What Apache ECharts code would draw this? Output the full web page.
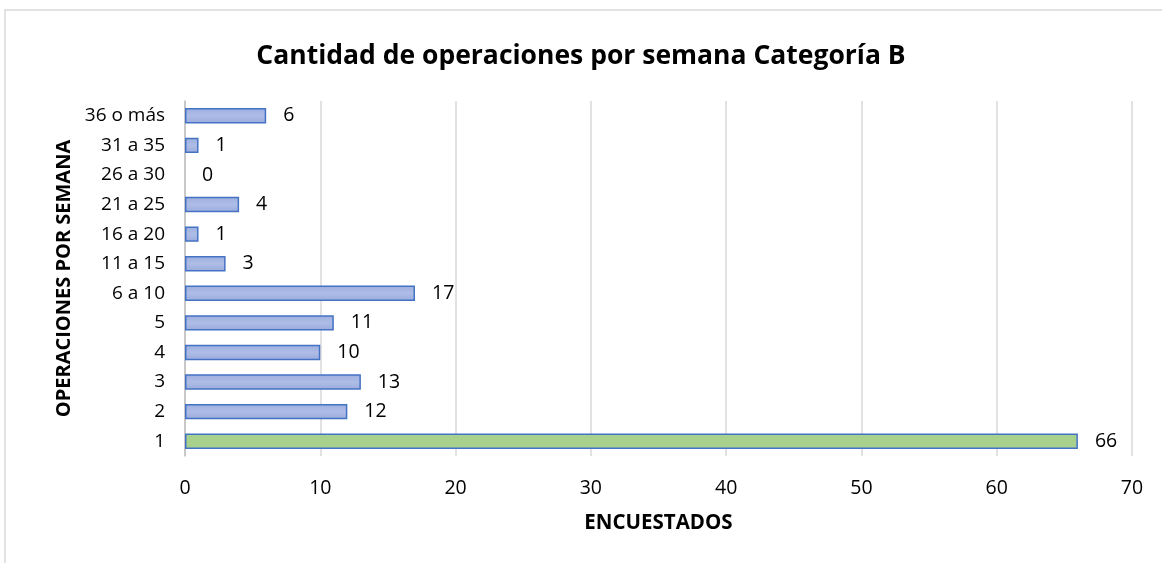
<!DOCTYPE html>
<html>
<head>
<meta charset="utf-8">
<script src="https://cdn.jsdelivr.net/npm/echarts@6/dist/echarts.min.js"></script>
<style>
  html, body { margin: 0; padding: 0; background: #fff; }
  #chart { width: 1162px; height: 563px; }
</style>
</head>
<body>
<div id="chart"></div>
<script>
// datos
var categorias = ['1', '2', '3', '4', '5', '6 a 10', '11 a 15', '16 a 20', '21 a 25', '26 a 30', '31 a 35', '36 o más'];
var encuestados = [66, 12, 13, 10, 11, 17, 3, 1, 4, 0, 1, 6];
var ticksX = [0, 10, 20, 30, 40, 50, 60, 70];

var fuente = 'Open Sans';
var azul = new echarts.graphic.LinearGradient(0, 0, 0, 1, [
    { offset: 0, color: '#9dafdf' },
    { offset: 0.5, color: '#aebde6' },
    { offset: 1, color: '#9aabdc' }
]);

var datos = encuestados.map(function (v, i) {
    return {
        value: v,
        itemStyle: {
            color: i === 0 ? '#a9d18e' : azul,
            borderWidth: v === 0 ? 0 : 1.5   // sin barra para el 0
        }
    };
});

var option = {
    backgroundColor: '#fff',
    animation: false,
    title: {
        text: 'Cantidad de operaciones por semana Categoría B',
        left: 'center',
        top: 38,
        textStyle: { fontFamily: fuente, fontSize: 26.5, fontWeight: 'bold', color: '#000' }
    },
    graphic: [{
        type: 'rect',
        shape: { x: 5, y: 10, width: 1170, height: 580 },
        style: { fill: 'none', stroke: '#d9d9d9', lineWidth: 1.5 },
        silent: true
    }],
    grid: { left: 185, right: 30, top: 101, bottom: 107 },
    xAxis: {
        type: 'value',
        min: ticksX[0],
        max: ticksX[ticksX.length - 1],
        interval: 10,
        name: 'ENCUESTADOS',
        nameLocation: 'middle',
        nameGap: 57,
        nameTextStyle: { fontFamily: fuente, fontSize: 20.5, fontWeight: 'bold', color: '#000' },
        axisLine: { show: false },
        axisTick: { show: false },
        axisLabel: { fontFamily: fuente, fontSize: 19.5, color: '#000', margin: 22 },
        splitLine: { lineStyle: { color: '#d9d9d9', width: 1.5 } }
    },
    yAxis: {
        type: 'category',
        data: categorias,
        name: 'OPERACIONES POR SEMANA',
        nameLocation: 'middle',
        nameGap: 111,
        nameRotate: 90,
        nameTextStyle: { fontFamily: fuente, fontSize: 20, fontWeight: 'bold', color: '#000' },
        axisLine: { show: true, lineStyle: { color: '#bfbfbf', width: 1.5 } },
        axisTick: { show: false },
        axisLabel: { fontFamily: fuente, fontSize: 19, color: '#000', margin: 20 }
    },
    series: [{
        type: 'bar',
        data: datos,
        barCategoryGap: '48%',
        itemStyle: { borderColor: '#4472c4' },
        label: {
            show: true,
            position: 'right',
            distance: 17,
            fontFamily: fuente,
            fontSize: 19.5,
            color: '#000'
        }
    }]
};

var chart = echarts.init(document.getElementById('chart'));
chart.setOption(option);
</script>
</body>
</html>
